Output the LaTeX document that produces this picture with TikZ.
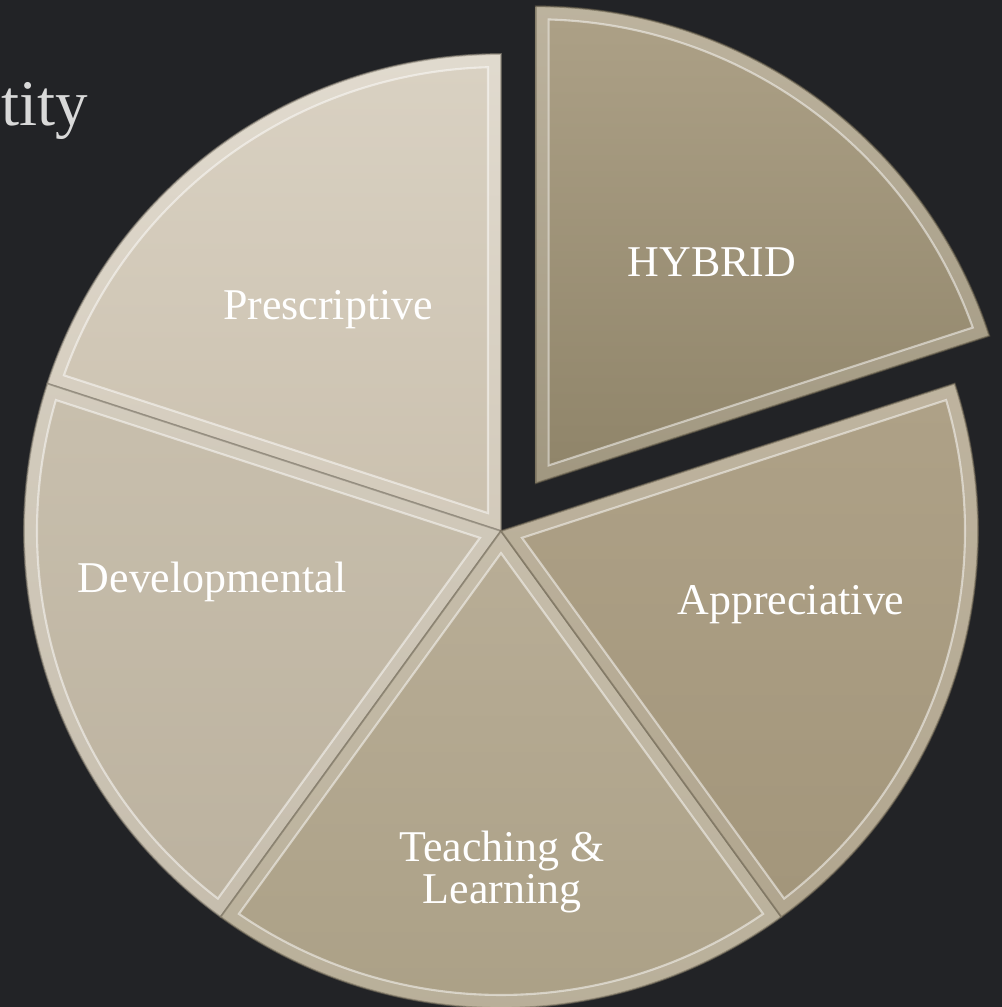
\documentclass[tikz,border=0pt]{standalone}
\usepackage{fontspec}
\setmainfont{Liberation Serif}
\usetikzlibrary{calc}
\definecolor{bg}{HTML}{222326}
\definecolor{titlegray}{HTML}{D9D9D9}
\definecolor{prA}{HTML}{D9D1C2}\definecolor{prB}{HTML}{CBC1AF}
\definecolor{deA}{HTML}{C8BFAD}\definecolor{deB}{HTML}{BCB29F}
\definecolor{teA}{HTML}{B8AD96}\definecolor{teB}{HTML}{ABA086}
\definecolor{apA}{HTML}{AEA187}\definecolor{apB}{HTML}{A3967B}
\definecolor{hyA}{HTML}{ACA086}\definecolor{hyB}{HTML}{90856A}
\tikzset{
  label/.style={text=white, font=\fontsize{12.5}{12}\selectfont, inner sep=0pt, align=center},
}
% #1 start angle, #2 end angle, #3 top colour, #4 bottom colour, #5 shading angle
\newcommand\bevslice[5]{%
  \pgfmathsetmacro\Ra{4.77}%
  \pgfmathsetmacro\dd{0.13}%
  \pgfmathsetmacro\Rb{\Ra-\dd}%
  \pgfmathsetmacro\del{asin(\dd/\Rb)}%
  \pgfmathsetmacro\bis{(#1+#2)/2}%
  \pgfmathsetmacro\vr{\dd/sin(36)}%
  \pgfmathsetmacro\aa{#1+\del}%
  \pgfmathsetmacro\ab{#2-\del}%
  \shade[shading angle=#5, top color=#3!80!white, bottom color=#4!85!white]
     (0,0) -- (#1:\Ra) arc[start angle=#1, end angle=#2, radius=\Ra] -- cycle;
  \shade[shading angle=#5, top color=#3, bottom color=#4]
     (\bis:\vr) -- (\aa:\Rb) arc[start angle=\aa, end angle=\ab, radius=\Rb] -- cycle;
  \draw[white, opacity=0.5, line width=0.6pt]
     (\bis:\vr) -- (\aa:\Rb) arc[start angle=\aa, end angle=\ab, radius=\Rb] -- cycle;
  \draw[#4!70!black, opacity=0.6, line width=0.5pt]
     (0,0) -- (#1:\Ra) arc[start angle=#1, end angle=#2, radius=\Ra] -- cycle;
}
\begin{document}
\begin{tikzpicture}
\useasboundingbox (-5.01,-4.76) rectangle (5.01,5.31);
\fill[bg] (-5.01,-4.76) rectangle (5.01,5.31);

\node[anchor=base east, inner sep=0pt, text=titlegray, font=\fontsize{18.5}{18}\selectfont] (tity) at (-4.12,4.06) {tity};

\bevslice{90}{162}{prA}{prB}{0}
\bevslice{162}{234}{deA}{deB}{0}
\bevslice{234}{306}{teA}{teB}{0}
\bevslice{306}{378}{apA}{apB}{0}
\begin{scope}[shift={(54:0.59)}]
\bevslice{18}{90}{hyA}{hyB}{20}
\end{scope}

\node[label] (prescriptive) at (-1.73,2.21) {Prescriptive};
\node[label] (hybrid) at (2.11,2.69) {HYBRID};
\node[label] (appreciative) at (2.90,-0.74) {Appreciative};
\node[label] (developmental) at (-2.89,-0.51) {Developmental};
\node[label] (teaching) at (0.01,-3.41) {Teaching \&\\Learning};
\end{tikzpicture}
\end{document}
